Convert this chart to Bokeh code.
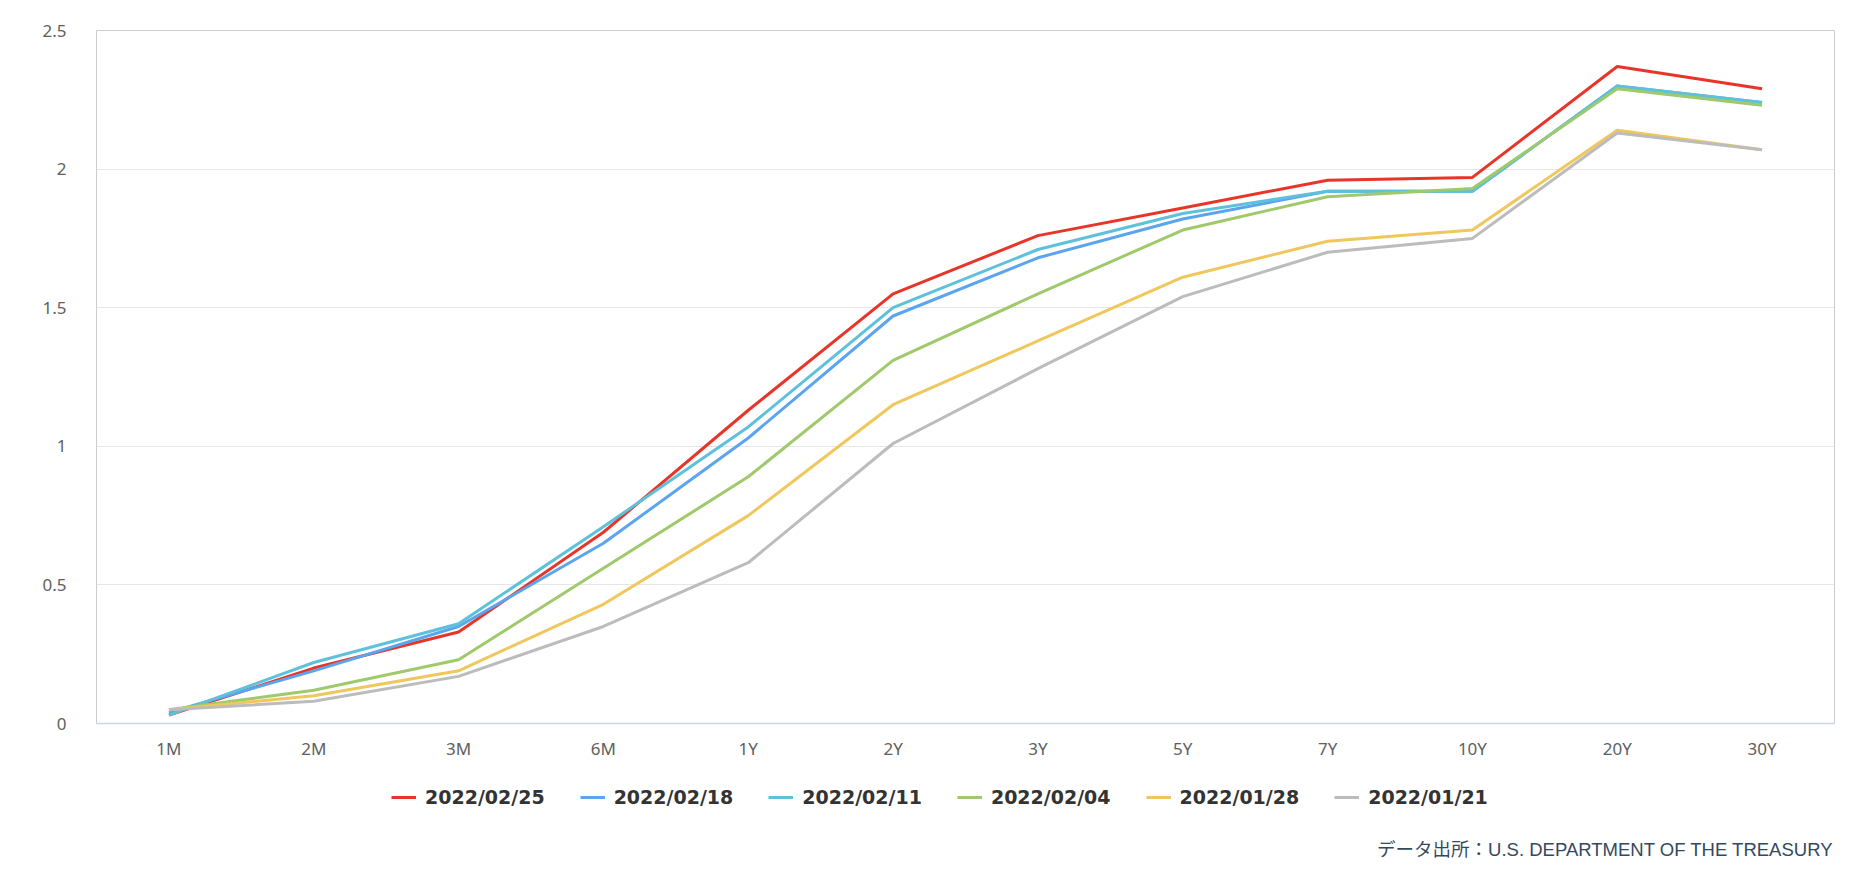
from bokeh.plotting import figure
from bokeh.layouts import column
from bokeh.models import Legend, LegendItem, NumeralTickFormatter, Label, FixedTicker, Range1d
from bokeh.embed import file_html
from bokeh.resources import INLINE

maturities = ["1M", "2M", "3M", "6M", "1Y", "2Y", "3Y", "5Y", "7Y", "10Y", "20Y", "30Y"]

d_0225 = [0.03, 0.20, 0.33, 0.69, 1.13, 1.55, 1.76, 1.86, 1.96, 1.97, 2.37, 2.29]
d_0218 = [0.04, 0.19, 0.35, 0.65, 1.03, 1.47, 1.68, 1.82, 1.92, 1.92, 2.30, 2.24]
d_0211 = [0.03, 0.22, 0.36, 0.71, 1.07, 1.50, 1.71, 1.84, 1.92, 1.92, 2.30, 2.24]
d_0204 = [0.05, 0.12, 0.23, 0.56, 0.89, 1.31, 1.55, 1.78, 1.90, 1.93, 2.29, 2.23]
d_0128 = [0.05, 0.10, 0.19, 0.43, 0.75, 1.15, 1.38, 1.61, 1.74, 1.78, 2.14, 2.07]
d_0121 = [0.05, 0.08, 0.17, 0.35, 0.58, 1.01, 1.28, 1.54, 1.70, 1.75, 2.13, 2.07]

series_names = ["2022/02/25", "2022/02/18", "2022/02/11", "2022/02/04", "2022/01/28", "2022/01/21"]
series_values = [d_0225, d_0218, d_0211, d_0204, d_0128, d_0121]
series_colors = ["#e8352a", "#5ba5ef", "#5ec1db", "#9fc96b", "#efc75c", "#bcbcbc"]

y_ticks = [0, 0.5, 1, 1.5, 2, 2.5]
source_text = "データ出所：U.S. DEPARTMENT OF THE TREASURY"

# ---- main chart ----
p = figure(width=1854, height=770, x_range=maturities, y_range=(0, 2.5),
           output_backend="svg", toolbar_location=None,
           min_border_left=96, min_border_right=20, min_border_top=30, min_border_bottom=47)
p.background_fill_color = "white"
p.border_fill_color = "white"
p.outline_line_color = "#cccccc"
p.outline_line_width = 1

for name, vals, col in zip(series_names, series_values, series_colors):
    p.line(maturities, vals, line_color=col, line_width=3, line_join="round")

p.xgrid.grid_line_color = None
p.ygrid.grid_line_color = "#e6e6e6"
p.ygrid.grid_line_width = 1

p.yaxis.ticker = FixedTicker(ticks=y_ticks)
p.yaxis.formatter = NumeralTickFormatter(format="0.[0]")
p.yaxis.axis_line_color = None
p.yaxis.major_tick_line_color = None
p.yaxis.minor_tick_line_color = None
p.yaxis.major_label_standoff = 24
p.yaxis.major_label_text_font = "Noto Sans"
p.yaxis.major_label_text_font_size = "17px"
p.yaxis.major_label_text_color = "#606060"

p.xaxis.axis_line_color = "#ccd6eb"
p.xaxis.axis_line_width = 1.5
p.xaxis.major_tick_line_color = None
p.xaxis.minor_tick_line_color = None
p.xaxis.major_label_standoff = 7
p.xaxis.major_label_text_font = "Noto Sans"
p.xaxis.major_label_text_font_size = "17px"
p.xaxis.major_label_text_color = "#606060"

# ---- legend + source strip (its frame is aligned with the main frame: x 96..1834) ----
q = figure(width=1854, height=106, x_range=maturities, y_range=Range1d(10, 11),
           output_backend="svg", toolbar_location=None,
           x_axis_type=None, y_axis_type=None,
           min_border_left=0, min_border_right=0, min_border_top=0, min_border_bottom=0)
q.outline_line_color = None
q.xgrid.grid_line_color = None
q.ygrid.grid_line_color = None
q.background_fill_color = "white"
q.border_fill_color = "white"

items = []
for name, vals, col in zip(series_names, series_values, series_colors):
    r = q.line(maturities, vals, line_color=col, line_width=3)
    items.append(LegendItem(label=name, renderers=[r]))

legend = Legend(items=items, orientation="horizontal", location=(295, 68),
                border_line_color=None, background_fill_alpha=0,
                label_text_font="DejaVu Sans", label_text_font_size="19px",
                label_text_font_style="bold", label_text_color="#333333",
                glyph_width=25, glyph_height=20, label_standoff=9, spacing=35,
                padding=8, margin=0)
q.add_layout(legend, "center")

src = Label(x=1737, y=27, x_units="screen", y_units="screen", text=source_text,
            text_align="right", text_baseline="middle",
            text_font="'Liberation Sans', 'Noto Sans CJK JP'", text_font_size="18.5px",
            text_color="#34495e")
q.add_layout(src)

layout = column(p, q, spacing=0)
open("out.html", "w").write(file_html(layout, INLINE))
